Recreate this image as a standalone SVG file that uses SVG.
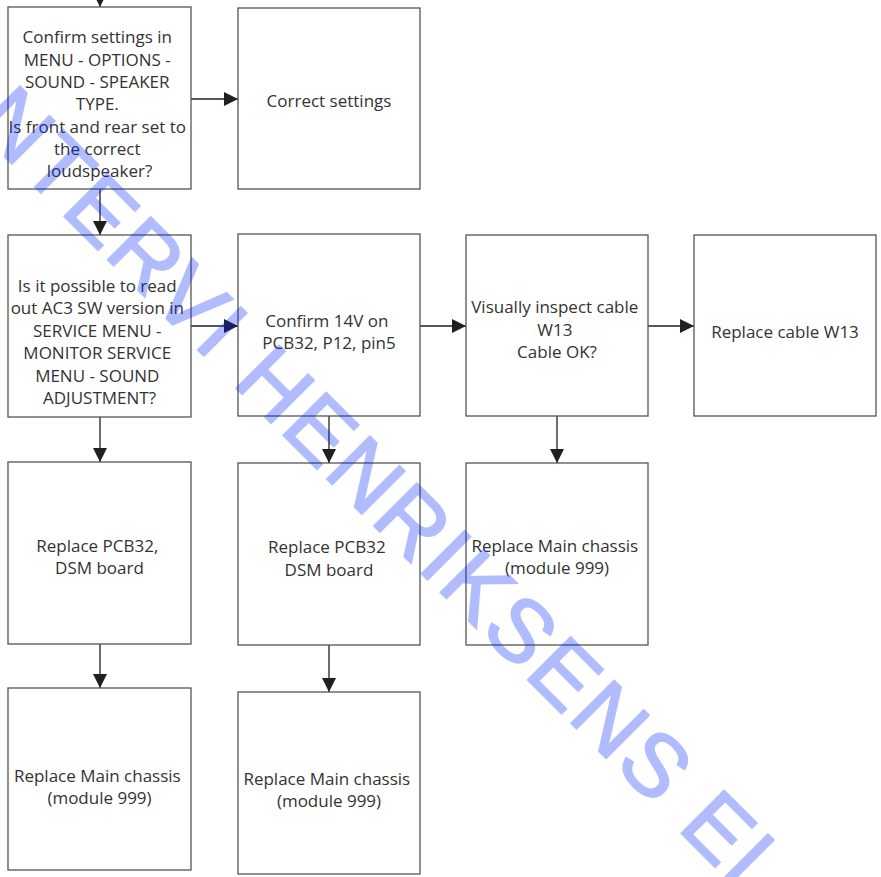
<svg xmlns="http://www.w3.org/2000/svg" width="881" height="877" viewBox="0 0 881 877">
  <defs>
    <marker id="arrow" viewBox="0 0 14 14" refX="14" refY="7" markerWidth="14" markerHeight="14" markerUnits="userSpaceOnUse" orient="auto">
      <path d="M0,0 L14,7 L0,14 Z" fill="#231f20"/>
    </marker>
    <style>
      .box { fill: #ffffff; stroke: #555555; stroke-width: 1.3; }
      .lbl { font-family: "Open Sans", "Noto Sans", sans-serif; font-size: 17px; fill: #333333; text-anchor: middle; }
      .conn { stroke: #231f20; stroke-width: 1.3; fill: none; marker-end: url(#arrow); }
      .mark { font-family: "Liberation Sans", Arial, sans-serif; font-size: 88px; fill: #0025ff; stroke: #0025ff; stroke-width: 2; letter-spacing: 3px; }
    </style>
  </defs>
  <rect width="881" height="877" fill="#ffffff"/>

  <g id="connectors">
    <line class="conn" x1="100" y1="-5" x2="100" y2="7"/>
    <line class="conn" x1="191" y1="99" x2="238" y2="99"/>
    <line class="conn" x1="100" y1="189" x2="100" y2="235"/>
    <line class="conn" x1="191" y1="326" x2="238" y2="326"/>
    <line class="conn" x1="420" y1="326" x2="466" y2="326"/>
    <line class="conn" x1="648" y1="326" x2="694" y2="326"/>
    <line class="conn" x1="100" y1="417" x2="100" y2="462"/>
    <line class="conn" x1="329" y1="416" x2="329" y2="463"/>
    <line class="conn" x1="557" y1="416" x2="557" y2="463"/>
    <line class="conn" x1="100" y1="644" x2="100" y2="688"/>
    <line class="conn" x1="329" y1="645" x2="329" y2="692"/>
  </g>

  <g id="confirm-speaker-type">
    <rect class="box" x="8" y="7" width="183" height="182"/>
    <text class="lbl">
      <tspan x="99.5" y="43.3">Confirm settings in</tspan>
      <tspan x="99.5" y="65.6">MENU - OPTIONS -</tspan>
      <tspan x="99.5" y="87.9">SOUND - SPEAKER</tspan>
      <tspan x="99.5" y="110.2">TYPE.</tspan>
      <tspan x="99.5" y="132.5">Is front and rear set to</tspan>
      <tspan x="99.5" y="154.8">the correct</tspan>
      <tspan x="99.5" y="177.1">loudspeaker?</tspan>
    </text>
  </g>

  <g id="correct-settings">
    <rect class="box" x="238" y="8" width="182" height="181"/>
    <text class="lbl" x="329" y="107">Correct settings</text>
  </g>

  <g id="read-ac3-version">
    <rect class="box" x="8" y="235" width="183" height="182"/>
    <text class="lbl">
      <tspan x="99.5" y="291.7">Is it possible to read</tspan>
      <tspan x="99.5" y="314.2">out AC3 SW version in</tspan>
      <tspan x="99.5" y="336.6">SERVICE MENU -</tspan>
      <tspan x="99.5" y="359">MONITOR SERVICE</tspan>
      <tspan x="99.5" y="381.5">MENU - SOUND</tspan>
      <tspan x="99.5" y="404">ADJUSTMENT?</tspan>
    </text>
  </g>

  <g id="confirm-14v">
    <rect class="box" x="238" y="234" width="182" height="182"/>
    <text class="lbl">
      <tspan x="329" y="326.7">Confirm 14V on</tspan>
      <tspan x="329" y="349.2">PCB32, P12, pin5</tspan>
    </text>
  </g>

  <g id="inspect-w13">
    <rect class="box" x="466" y="235" width="182" height="181"/>
    <text class="lbl">
      <tspan x="557" y="313.3">Visually inspect cable</tspan>
      <tspan x="557" y="335.8">W13</tspan>
      <tspan x="557" y="358.3">Cable OK?</tspan>
    </text>
  </g>

  <g id="replace-w13">
    <rect class="box" x="694" y="235" width="182" height="181"/>
    <text class="lbl" x="785" y="338">Replace cable W13</text>
  </g>

  <g id="replace-pcb32-a">
    <rect class="box" x="8" y="462" width="183" height="182"/>
    <text class="lbl">
      <tspan x="99.5" y="551.7">Replace PCB32,</tspan>
      <tspan x="99.5" y="574">DSM board</tspan>
    </text>
  </g>

  <g id="replace-pcb32-b">
    <rect class="box" x="238" y="463" width="182" height="182"/>
    <text class="lbl">
      <tspan x="329" y="553.3">Replace PCB32</tspan>
      <tspan x="329" y="575.8">DSM board</tspan>
    </text>
  </g>

  <g id="replace-chassis-c">
    <rect class="box" x="466" y="463" width="182" height="182"/>
    <text class="lbl">
      <tspan x="557" y="551.7">Replace Main chassis</tspan>
      <tspan x="557" y="574">(module 999)</tspan>
    </text>
  </g>

  <g id="replace-chassis-a">
    <rect class="box" x="8" y="688" width="183" height="182"/>
    <text class="lbl">
      <tspan x="99.5" y="781.7">Replace Main chassis</tspan>
      <tspan x="99.5" y="804">(module 999)</tspan>
    </text>
  </g>

  <g id="replace-chassis-b">
    <rect class="box" x="238" y="692" width="182" height="182"/>
    <text class="lbl">
      <tspan x="329" y="785">Replace Main chassis</tspan>
      <tspan x="329" y="807.3">(module 999)</tspan>
    </text>
  </g>

  <!-- translucent diagonal stamp across the sheet -->
  <g opacity="0.3">
    <text class="mark" transform="translate(-28,124) rotate(45)" x="0" y="0">NTERVI HENRIKSENS EL</text>
  </g>
</svg>
